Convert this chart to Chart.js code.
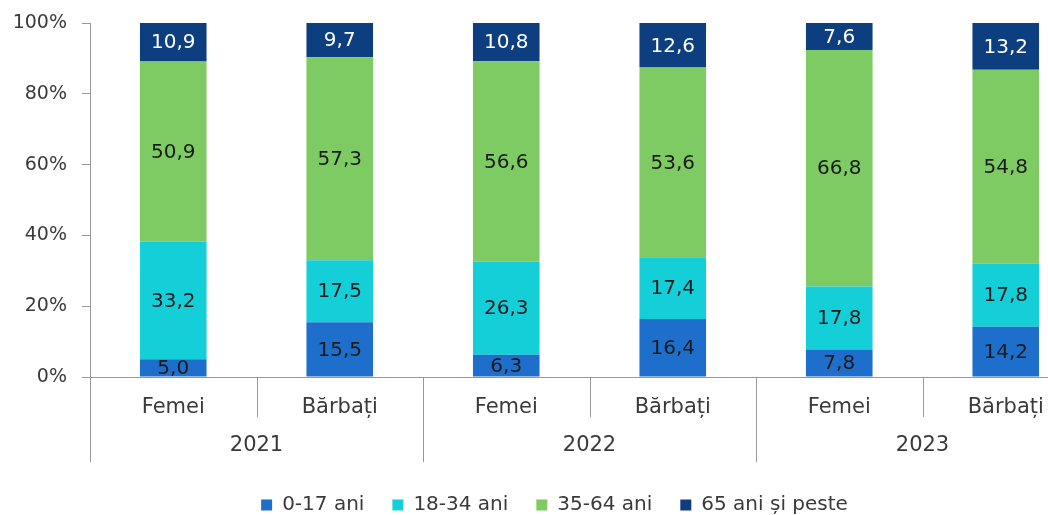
<!DOCTYPE html>
<html>
<head>
<meta charset="utf-8">
<script src="https://cdn.jsdelivr.net/npm/chart.js@4.4.1/dist/chart.umd.min.js"></script>
<style>
html,body{margin:0;padding:0;background:#fff;overflow:hidden;}
#wrap{width:1120px;height:515px;position:relative;}
</style>
</head>
<body>
<div id="wrap"><canvas id="c"></canvas></div>
<script>
const categories = ['Femei', 'Bărbați', 'Femei', 'Bărbați', 'Femei', 'Bărbați'];
const years = ['2021', '2022', '2023'];
const seriesNames = ['0-17 ani', '18-34 ani', '35-64 ani', '65 ani și peste'];
const age0_17   = [5.0, 15.5, 6.3, 16.4, 7.8, 14.2];
const age18_34  = [33.2, 17.5, 26.3, 17.4, 17.8, 17.8];
const age35_64  = [50.9, 57.3, 56.6, 53.6, 66.8, 54.8];
const age65plus = [10.9, 9.7, 10.8, 12.6, 7.6, 13.2];
const yTickStep = 20;

const colors = ['#1e6fcb', '#14ced8', '#7dcb62', '#0d3f80'];
const labelColors = ['#1a1a1a', '#1a1a1a', '#1a1a1a', '#ffffff'];
const seriesData = [age0_17, age18_34, age35_64, age65plus];
const axisColor = '#999999';
const textColor = '#3a3a3a';
const FONT = "'DejaVu Sans', 'Liberation Sans', sans-serif";

const separatorPlugin = {
  id: 'separators',
  afterDraw(chart) {
    const xs = chart.scales.x;
    const ctx = chart.ctx;
    const n = categories.length;
    const per = n / years.length;
    const step = (xs.right - xs.left) / n;
    const bottom = chart.chartArea.bottom;
    ctx.save();
    ctx.strokeStyle = axisColor;
    ctx.lineWidth = 1;
    for (let i = 0; i <= n; i++) {
      const x = Math.round(xs.left + i * step) + 0.5;
      const isGroup = i % per === 0;
      ctx.beginPath();
      ctx.moveTo(x, bottom);
      ctx.lineTo(x, bottom + (isGroup ? 85 : 40));
      ctx.stroke();
    }
    ctx.fillStyle = textColor;
    ctx.font = '21px ' + FONT;
    ctx.textAlign = 'center';
    ctx.textBaseline = 'middle';
    years.forEach((y, g) => {
      const x = xs.left + (g * per + per / 2) * step;
      ctx.fillText(y, x, bottom + 69);
    });
    ctx.restore();
  }
};

const valueLabelPlugin = {
  id: 'valueLabels',
  afterDatasetsDraw(chart) {
    const ctx = chart.ctx;
    ctx.save();
    ctx.font = '20px ' + FONT;
    ctx.textAlign = 'center';
    ctx.textBaseline = 'middle';
    chart.data.datasets.forEach((ds, di) => {
      const meta = chart.getDatasetMeta(di);
      meta.data.forEach((el, i) => {
        const v = ds.data[i];
        ctx.fillStyle = labelColors[di];
        ctx.fillText(v.toFixed(1).replace('.', ','), el.x, (el.y + el.base) / 2 + 1);
      });
    });
    ctx.restore();
  }
};

new Chart(document.getElementById('c'), {
  type: 'bar',
  data: {
    labels: categories,
    datasets: seriesNames.map((name, i) => ({
      label: name,
      data: seriesData[i],
      backgroundColor: colors[i],
      borderWidth: 0,
      barPercentage: 0.4,
      categoryPercentage: 1.0
    }))
  },
  options: {
    responsive: true,
    maintainAspectRatio: false,
    animation: false,
    layout: { padding: { top: 23, right: 11, left: 0, bottom: 0 } },
    plugins: {
      tooltip: { enabled: false },
      legend: {
        position: 'bottom',
        maxHeight: 48,
        labels: {
          boxWidth: 11,
          boxHeight: 11,
          padding: 28,
          color: textColor,
          font: { size: 20, family: FONT }
        }
      }
    },
    scales: {
      x: {
        stacked: true,
        grid: { display: false },
        border: { display: true, color: axisColor, width: 1 },
        ticks: { color: textColor, font: { size: 21, family: FONT }, padding: 10, maxRotation: 0 },
        afterFit(scale) { scale.height = 90; }
      },
      y: {
        stacked: true,
        min: 0,
        max: 100,
        grid: { display: true, drawOnChartArea: false, drawTicks: true, tickLength: 8, color: axisColor },
        border: { display: true, color: axisColor, width: 1 },
        ticks: {
          stepSize: yTickStep,
          color: textColor,
          padding: 15,
          font: { size: 19, family: FONT, lineHeight: 0.8 },
          callback: v => v + '%'
        },
        afterFit(scale) { scale.width = 90; }
      },
      yRight: {
        position: 'right',
        display: true,
        grid: { display: false },
        border: { display: false },
        ticks: { display: false },
        afterFit(scale) { scale.width = 20; }
      }
    }
  },
  plugins: [separatorPlugin, valueLabelPlugin]
});
</script>
</body>
</html>
